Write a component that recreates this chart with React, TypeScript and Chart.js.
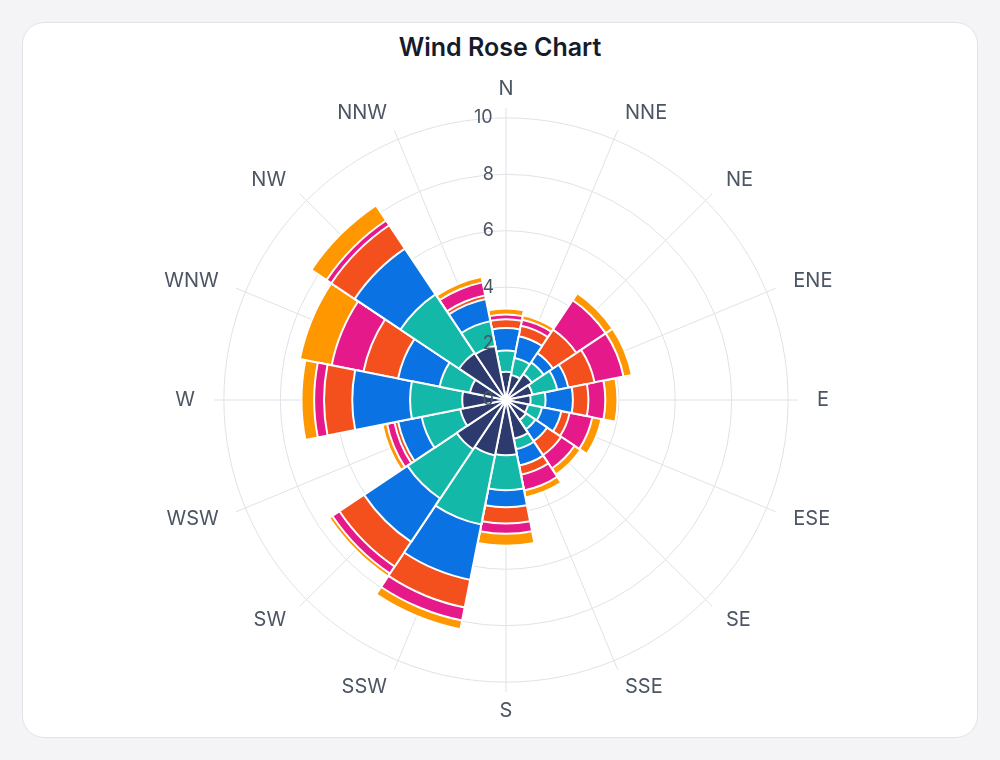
import { useEffect, useRef } from "react"
import { Chart, registerables } from "chart.js"

Chart.register(...registerables)

const directions = ["N", "NNE", "NE", "ENE", "E", "ESE", "SE", "SSE", "S", "SSW", "SW", "WSW", "W", "WNW", "NW", "NNW"]

// frequency (%) of each speed band, one value per direction (N clockwise)
const band0to2 = [1.0, 0.9, 1.1, 0.95, 0.87, 0.8, 0.85, 1.4, 1.96, 2.0, 2.1, 1.65, 1.55, 1.3, 2.0, 1.95]
const band2to4 = [0.75, 0.62, 0.5, 0.9, 0.53, 0.5, 0.4, 0.38, 1.24, 2.5, 2.1, 1.4, 1.85, 1.1, 2.5, 0.9]
const band4to6 = [0.8, 0.78, 0.4, 0.4, 0.97, 0.7, 0.5, 0.59, 0.6, 2.0, 1.85, 0.85, 2.05, 1.5, 1.95, 0.8]
const band6to8 = [0.31, 0.38, 1.0, 0.95, 0.55, 0.3, 0.6, 0.33, 0.58, 1.0, 1.05, 0.13, 1.0, 1.25, 1.0, 0.13]
const band8to10 = [0.17, 0.22, 1.25, 1.05, 0.6, 0.82, 0.57, 0.57, 0.36, 0.47, 0.3, 0.27, 0.35, 1.15, 0.2, 0.47]
const band10plus = [0.21, 0.16, 0.3, 0.3, 0.43, 0.33, 0.26, 0.25, 0.43, 0.31, 0.13, 0.17, 0.45, 1.15, 0.65, 0.2]

const bandLabels = ["0-2 m/s", "2-4 m/s", "4-6 m/s", "6-8 m/s", "8-10 m/s", "10+ m/s"]
const bandColors = ["#2c3a6e", "#14b8a9", "#0a72e3", "#f4501e", "#e6198b", "#ff9800"]
const bandValues = [band0to2, band2to4, band4to6, band6to8, band8to10, band10plus]

const tickValues = [0, 2, 4, 6, 8, 10]
const axisMax = 10.35

const textColor = "#4b5563"
const gridColor = "#dfe2e7"
const fontFamily = "Inter, 'Noto Sans', sans-serif"

// polar area can't stack, so each band is drawn as the running total,
// inner bands first so they sit on top of the outer ones
function stackedDatasets() {
  const running = directions.map(() => 0)
  return bandValues.map((values, i) => ({
    label: bandLabels[i],
    data: values.map((v, d) => (running[d] = Math.round((running[d] + v) * 100) / 100)),
    backgroundColor: bandColors[i],
    borderColor: "#ffffff",
    borderWidth: 2,
  }))
}

// Chart.js starts each wedge on its label; turn them back half a step so the
// wedge is centred on the direction line
const centerWedges = {
  id: "centerWedges",
  afterDatasetsUpdate(chart: Chart) {
    const half = Math.PI / directions.length
    chart.data.datasets.forEach((_, i) => {
      for (const arc of chart.getDatasetMeta(i).data as any[]) {
        arc.startAngle -= half
        arc.endAngle -= half
      }
    })
  },
}

// right-align the radial tick labels just left of the north line
const measure = document.createElement("canvas").getContext("2d")!
function tickLabel(value: number) {
  const text = String(value)
  measure.font = `18px ${fontFamily}`
  const w = measure.measureText(text).width
  const space = measure.measureText(" ").width
  return text + " ".repeat(Math.max(0, Math.round((w + 26) / space)))
}

function WindRose() {
  const chartRef = useRef<HTMLCanvasElement>(null)
  const chartInstance = useRef<Chart | null>(null)

  useEffect(() => {
    if (!chartRef.current) return
    if (chartInstance.current) chartInstance.current.destroy()

    const ctx = chartRef.current.getContext("2d")
    if (ctx) {
      Chart.defaults.font.family = fontFamily
      chartInstance.current = new Chart(ctx, {
        type: "polarArea",
        data: {
          labels: directions,
          datasets: stackedDatasets(),
        },
        options: {
          responsive: true,
          maintainAspectRatio: false,
          animation: false,
          layout: { padding: { top: 89, bottom: 49, left: 30, right: 18 } },
          plugins: {
            legend: { display: false },
            title: { display: false },
          },
          scales: {
            r: {
              min: -0.001,
              max: axisMax,
              ticks: {
                stepSize: 2,
                includeBounds: false,
                z: 1,
                showLabelBackdrop: false,
                color: textColor,
                font: { size: 18 },
                callback: (value: any) => (tickValues.includes(value) ? tickLabel(value) : ""),
              },
              grid: { color: gridColor, lineWidth: 1, circular: true },
              angleLines: { display: true, color: gridColor, lineWidth: 1 },
              pointLabels: {
                display: true,
                color: textColor,
                // zero line height keeps each label vertically centred on its spoke
                font: { size: 20, lineHeight: 0 },
                padding: 8,
              },
            },
          },
        },
        plugins: [centerWedges],
      })
    }

    return () => {
      if (chartInstance.current) chartInstance.current.destroy()
    }
  }, [])

  return <canvas ref={chartRef} />
}

export default function App() {
  useEffect(() => {
    document.body.style.margin = "0"
  }, [])

  return (
    <div style={{ position: "relative", width: 1000, height: 760, background: "#f4f4f6", fontFamily }}>
      <div
        style={{
          position: "absolute",
          left: 22,
          top: 22,
          width: 956,
          height: 716,
          boxSizing: "border-box",
          background: "#ffffff",
          border: "1px solid #e2e3e7",
          borderRadius: 22,
        }}
      />
      <div
        style={{
          position: "absolute",
          left: 0,
          top: 33,
          width: 1000,
          textAlign: "center",
          fontSize: 25,
          lineHeight: "28px",
          fontWeight: 600,
          color: "#151b2b",
        }}
      >
        Wind Rose Chart
      </div>
      <div style={{ position: "absolute", left: 0, top: 0, width: 1000, height: 760 }}>
        <WindRose />
      </div>
    </div>
  )
}
